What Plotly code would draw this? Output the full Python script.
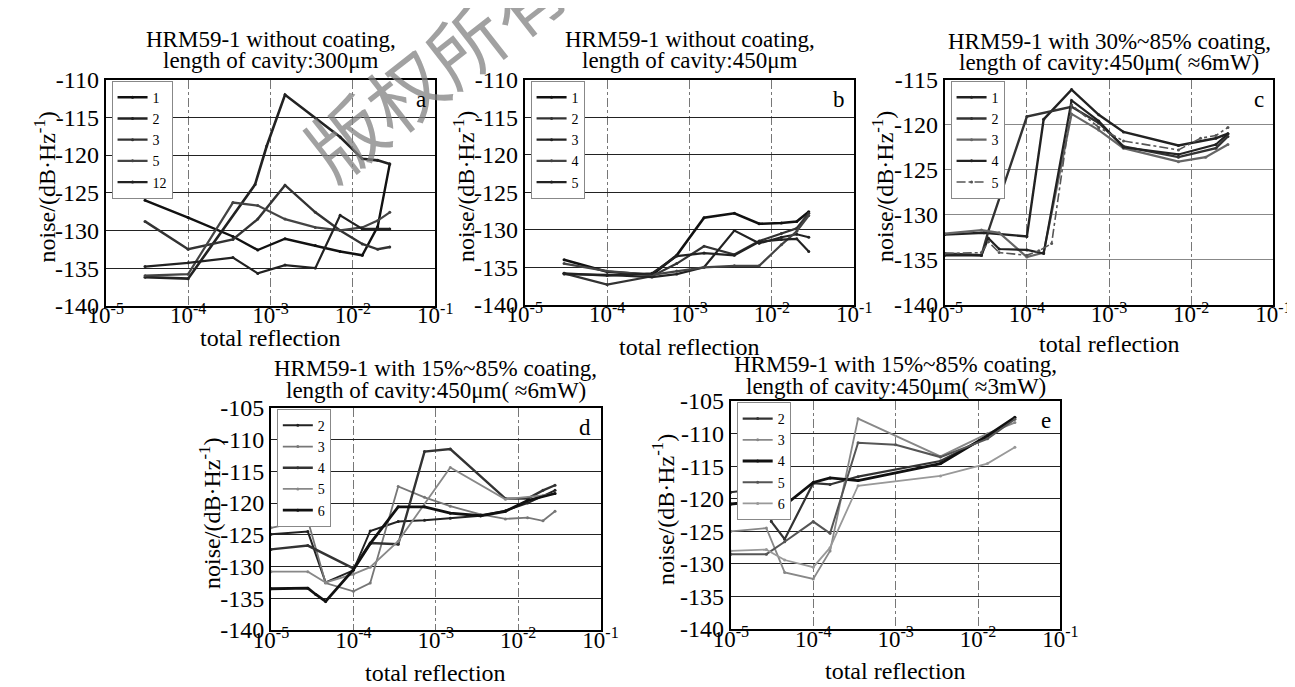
import plotly.graph_objects as go

W, H = 1295, 687
SERIF = "Liberation Serif, Times New Roman, serif"

# ---------------- data ----------------
# panel a : HRM59-1 without coating, 300um
a_names = ["1", "2", "3", "5", "12"]
a1_x = [3e-5, 1e-4, 3.5e-4, 7e-4, 1.5e-3, 3.5e-3, 7e-3, 1.3e-2, 2e-2, 2.8e-2]
a1_y = [-126.0, -128.3, -130.8, -132.6, -131.1, -132.0, -132.8, -133.3, -129.5, -121.2]
a2_x = [3e-5, 1e-4, 6.5e-4, 9e-4, 1.5e-3, 7e-3, 1.3e-2, 2e-2, 2.8e-2]
a2_y = [-136.2, -136.4, -123.9, -118.8, -112.0, -117.6, -120.5, -120.7, -121.2]
a3_x = [3e-5, 1e-4, 3.5e-4, 7e-4, 1.5e-3, 3.5e-3, 7e-3, 1.3e-2, 2e-2, 2.8e-2]
a3_y = [-128.8, -132.5, -131.2, -128.5, -124.0, -127.6, -130.0, -131.8, -132.5, -132.2]
a5_x = [3e-5, 1e-4, 3.5e-4, 7e-4, 1.5e-3, 3.5e-3, 7e-3, 1.3e-2, 2e-2, 2.8e-2]
a5_y = [-136.0, -135.8, -126.3, -126.7, -128.5, -129.6, -130.0, -129.6, -128.7, -127.6]
a12_x = [3e-5, 1e-4, 3.5e-4, 7e-4, 1.5e-3, 3.5e-3, 7e-3, 1.3e-2, 2e-2, 2.8e-2]
a12_y = [-134.8, -134.3, -133.6, -135.7, -134.6, -135.0, -128.0, -129.8, -129.8, -129.8]

# panel b : HRM59-1 without coating, 450um
b_names = ["1", "2", "3", "4", "5"]
b_x = [3e-5, 1e-4, 3.5e-4, 7e-4, 1.5e-3, 3.5e-3, 7e-3, 1.3e-2, 2e-2, 2.8e-2]
b1_y = [-134.0, -135.6, -136.0, -133.4, -128.4, -127.8, -129.2, -129.1, -128.9, -127.6]
b2_y = [-135.8, -137.3, -136.2, -134.5, -132.2, -133.3, -131.5, -130.5, -129.8, -127.8]
b3_y = [-135.9, -136.0, -136.3, -135.9, -135.0, -130.1, -131.8, -131.0, -130.6, -131.0]
b4_y = [-134.5, -135.5, -136.0, -135.5, -135.0, -134.8, -134.8, -132.0, -130.2, -128.1]
b5_y = [-135.8, -136.1, -135.8, -133.5, -133.1, -133.4, -131.6, -131.3, -131.2, -132.9]

# panel c : 30%~85% coating, 450um (~6mW)
c_names = ["1", "2", "3", "4", "5"]
c1_x = [1e-5, 3e-5, 1e-4, 1.6e-4, 3.5e-4, 7.5e-4, 1.5e-3, 7e-3, 2e-2, 2.8e-2]
c1_y = [-132.2, -132.0, -132.4, -119.4, -116.1, -118.9, -120.8, -122.3, -121.5, -121.0]
c2_x = [1e-5, 2.8e-5, 3.4e-5, 1e-4, 3.5e-4, 7.5e-4, 1.5e-3, 7e-3, 2e-2, 2.8e-2]
c2_y = [-134.3, -134.5, -131.8, -119.1, -118.0, -119.8, -122.4, -123.6, -122.6, -121.3]
c3_x = [1e-5, 2.8e-5, 4.6e-5, 1e-4, 1.6e-4, 3.5e-4, 7.5e-4, 1.5e-3, 7e-3, 1.5e-2, 2.8e-2]
c3_y = [-132.1, -131.7, -132.0, -134.7, -134.2, -118.8, -120.6, -122.6, -124.1, -123.6, -122.2]
c4_x = [1e-5, 2.8e-5, 3.4e-5, 4.6e-5, 1e-4, 1.6e-4, 3.5e-4, 7.5e-4, 1.5e-3, 7e-3, 2e-2, 2.8e-2]
c4_y = [-134.5, -134.5, -132.6, -133.8, -133.9, -134.3, -117.3, -119.6, -122.5, -123.3, -122.2, -121.0]
c5_x = [1e-5, 2.8e-5, 3.4e-5, 4.6e-5, 1e-4, 1.4e-4, 2e-4, 3.5e-4, 7.5e-4, 1.5e-3, 7e-3, 1.3e-2, 2e-2, 2.8e-2]
c5_y = [-134.3, -134.2, -133.0, -134.2, -134.5, -134.0, -133.2, -117.8, -120.3, -121.8, -122.8, -121.5, -121.2, -120.3]

# panel d : 15%~85% coating, 450um (~6mW)
d_names = ["2", "3", "4", "5", "6"]
d2_x = [1e-5, 2.8e-5, 4.6e-5, 1e-4, 1.6e-4, 3.5e-4, 7.3e-4, 1.5e-3, 3.5e-3, 7e-3, 1.3e-2, 2.8e-2]
d2_y = [-124.9, -124.5, -132.5, -130.6, -124.4, -122.9, -122.7, -122.4, -122.0, -121.2, -120.0, -118.0]
d3_x = [1e-5, 2.8e-5, 4.6e-5, 1e-4, 1.6e-4, 3.5e-4, 7.3e-4, 1.5e-3, 3.5e-3, 7e-3, 1.3e-2, 2e-2, 2.8e-2]
d3_y = [-123.9, -122.7, -132.6, -133.9, -132.6, -117.4, -119.1, -120.5, -121.8, -122.5, -122.3, -122.8, -121.3]
d4_x = [1e-5, 2.8e-5, 1e-4, 1.6e-4, 3.5e-4, 7.3e-4, 1.5e-3, 7e-3, 1.3e-2, 2e-2, 2.8e-2]
d4_y = [-127.3, -126.7, -130.3, -126.3, -126.5, -111.9, -111.5, -119.3, -119.3, -118.0, -117.2]
d5_x = [1e-5, 2.8e-5, 4.6e-5, 1e-4, 1.6e-4, 3.5e-4, 1.5e-3, 7e-3, 2e-2, 2.8e-2]
d5_y = [-130.8, -130.8, -132.5, -131.2, -130.1, -126.0, -114.4, -119.4, -118.8, -118.5]
d6_x = [1e-5, 2.8e-5, 3.5e-5, 4.6e-5, 1e-4, 1.6e-4, 3.5e-4, 7.3e-4, 1.5e-3, 3.5e-3, 7e-3, 1.3e-2, 2.8e-2]
d6_y = [-133.5, -133.4, -134.4, -135.5, -130.5, -126.4, -120.6, -120.6, -121.6, -122.0, -121.3, -119.6, -118.5]

# panel e : 15%~85% coating, 450um (~3mW)
e_names = ["2", "3", "4", "5", "6"]
e2_x = [1e-5, 2.7e-5, 3.1e-5, 4.5e-5, 1e-4, 1.6e-4, 3.5e-4, 3.5e-3, 1.3e-2, 2.8e-2]
e2_y = [-119.0, -118.3, -123.5, -126.2, -117.6, -117.8, -116.6, -114.2, -110.5, -107.6]
e3_x = [1e-5, 2.7e-5, 4.5e-5, 1e-4, 1.6e-4, 3.5e-4, 3.5e-3, 1.3e-2, 2.8e-2]
e3_y = [-125.0, -124.5, -131.3, -132.3, -128.0, -107.7, -113.5, -110.0, -108.3]
e4_x = [1e-5, 2.7e-5, 4.5e-5, 1e-4, 1.6e-4, 3.5e-4, 3.5e-3, 1.3e-2, 2.8e-2]
e4_y = [-120.8, -120.3, -121.0, -117.5, -116.8, -117.2, -114.6, -110.3, -107.5]
e5_x = [1e-5, 2.7e-5, 4.5e-5, 1e-4, 1.6e-4, 3.5e-4, 1e-3, 3.5e-3, 1.3e-2, 2.8e-2]
e5_y = [-128.5, -128.5, -126.6, -123.5, -125.3, -111.4, -111.7, -113.6, -110.8, -107.8]
e6_x = [1e-5, 2.7e-5, 4.5e-5, 1e-4, 1.6e-4, 3.5e-4, 3.5e-3, 1.3e-2, 2.8e-2]
e6_y = [-128.0, -127.8, -129.4, -130.5, -127.5, -118.0, -116.5, -114.6, -112.1]

title_line1 = [
    "HRM59-1 without coating,",
    "HRM59-1 without coating,",
    "HRM59-1 with 30%~85% coating,",
    "HRM59-1 with 15%~85% coating,",
    "HRM59-1 with 15%~85% coating,",
]
title_line2 = [
    "length of cavity:300μm",
    "length of cavity:450μm",
    "length of cavity:450μm( ≈6mW)",
    "length of cavity:450μm( ≈6mW)",
    "length of cavity:450μm( ≈3mW)",
]
letters = ["a", "b", "c", "d", "e"]
x_tickvals = [1e-5, 1e-4, 1e-3, 1e-2, 1e-1]
x_ticktext = ["10<sup>-5</sup>", "10<sup>-4</sup>", "10<sup>-3</sup>", "10<sup>-2</sup>", "10<sup>-1</sup>"]
y_tickvals = [-140, -135, -130, -125, -120, -115, -110, -105]
y_ticktext = ["-140", "-135", "-130", "-125", "-120", "-115", "-110", "-105"]
y_ranges = [(-140, -110), (-140, -110), (-140, -115), (-140, -105), (-140, -105)]
x_title = "total reflection"
y_title = "noise/(dB·Hz<sup>-1</sup>)"
watermark = "版权所有"

panels = [
    (a_names, [(a1_x, a1_y), (a2_x, a2_y), (a3_x, a3_y), (a5_x, a5_y), (a12_x, a12_y)]),
    (b_names, [(b_x, b1_y), (b_x, b2_y), (b_x, b3_y), (b_x, b4_y), (b_x, b5_y)]),
    (c_names, [(c1_x, c1_y), (c2_x, c2_y), (c3_x, c3_y), (c4_x, c4_y), (c5_x, c5_y)]),
    (d_names, [(d2_x, d2_y), (d3_x, d3_y), (d4_x, d4_y), (d5_x, d5_y), (d6_x, d6_y)]),
    (e_names, [(e2_x, e2_y), (e3_x, e3_y), (e4_x, e4_y), (e5_x, e5_y), (e6_x, e6_y)]),
]

# ---------------- styles / layout geometry (pixels) ----------------
boxes = [(82, 421, 61, 296), (513, 852, 61, 295), (945, 1283, 61, 295),
         (252, 591, 402, 633), (725, 1064, 395, 632)]
ytitle_x = [19, 451, 882, 189, 656]
xtitle_y = [329, 339, 336, 678, 676]
title_y1 = [19, 19, 21, 361, 357]
title_y2 = [41, 41, 43, 384, 380]

styles = [
    [dict(color="#111", width=2.4), dict(color="#222", width=2.6), dict(color="#333", width=2.4),
     dict(color="#444", width=2.2), dict(color="#222", width=2.2)],
    [dict(color="#111", width=2.6), dict(color="#333", width=2.2), dict(color="#222", width=2.2),
     dict(color="#444", width=2.2), dict(color="#222", width=2.2)],
    [dict(color="#222", width=2.4), dict(color="#333", width=2.4), dict(color="#666", width=2.2),
     dict(color="#222", width=2.2), dict(color="#555", width=1.6, dash="dashdot")],
    [dict(color="#222", width=2.0), dict(color="#777", width=1.8), dict(color="#333", width=2.4),
     dict(color="#888", width=1.8), dict(color="#111", width=2.8)],
    [dict(color="#333", width=2.2), dict(color="#888", width=1.8), dict(color="#111", width=2.8),
     dict(color="#555", width=2.0), dict(color="#999", width=1.8)],
]
hgrid_color = ["#222", "#222", "#888", "#222", "#222"]


def px(x):
    return x / W


def py(y):
    return 1 - y / H


fig = go.Figure()
layout = dict(
    width=W, height=H, autosize=False,
    margin=dict(l=0, r=0, t=0, b=0),
    paper_bgcolor="white", plot_bgcolor="white",
    font=dict(family=SERIF, color="black", size=20),
    annotations=[],
)

# watermark (drawn first, behind the other annotations)
layout["annotations"].append(dict(
    text=watermark, x=px(420), y=py(46), xref="paper", yref="paper",
    xanchor="center", yanchor="middle", showarrow=False, textangle=-38,
    font=dict(size=76, family="Noto Sans CJK SC", color="rgba(130,130,130,0.75)"),
))

for i, (names, series) in enumerate(panels):
    k = "" if i == 0 else str(i + 1)
    leg = "legend" + k
    for j, (name, (xs, ys)) in enumerate(zip(names, series)):
        st = styles[i][j]
        fig.add_trace(go.Scatter(
            x=xs, y=ys, name=name, mode="lines+markers",
            line=dict(color=st["color"], width=st["width"], dash=st.get("dash", "solid")),
            marker=dict(size=3, color=st["color"]),
            xaxis="x" + k, yaxis="y" + k, legend=leg,
        ))
    l, r, t, b = boxes[i]
    layout["xaxis" + k] = dict(
        domain=[px(l), px(r)], anchor="y" + k, type="log", range=[-5, -1],
        tickvals=x_tickvals, ticktext=x_ticktext, tickfont=dict(size=23, family=SERIF),
        ticklabelstandoff=-12,
        showline=True, linecolor="black", linewidth=2, mirror=True, ticks="",
        showgrid=True, gridcolor="#777", griddash="dashdot", gridwidth=1,
        zeroline=False,
    )
    y0, y1 = y_ranges[i]
    layout["yaxis" + k] = dict(
        domain=[py(b), py(t)], anchor="x" + k, range=[y0, y1],
        tickvals=y_tickvals, ticktext=y_ticktext,
        tickfont=dict(size=24, family=SERIF),
        showline=True, linecolor="black", linewidth=2, mirror=True, ticks="",
        showgrid=True, gridcolor=hgrid_color[i], gridwidth=1,
        zeroline=False,
    )
    layout[leg] = dict(
        x=px(l + 6), y=py(t + 1), xanchor="left", yanchor="top",
        bgcolor="white", bordercolor="#888", borderwidth=1,
        font=dict(family=SERIF, size=14), tracegroupgap=0, itemwidth=30,
    )
    cx = (l + r) / 2
    layout["annotations"] += [
        dict(text=title_line1[i], x=px(cx), y=py(title_y1[i]), xref="paper", yref="paper",
             xanchor="center", yanchor="middle", showarrow=False,
             font=dict(size=23, family=SERIF)),
        dict(text=title_line2[i], x=px(cx), y=py(title_y2[i]), xref="paper", yref="paper",
             xanchor="center", yanchor="middle", showarrow=False,
             font=dict(size=23, family=SERIF)),
        dict(text=letters[i], x=px(r - 8), y=py(t + 5), xref="paper", yref="paper",
             xanchor="right", yanchor="top", showarrow=False,
             font=dict(size=23, family=SERIF)),
        dict(text=x_title, x=px(cx), y=py(xtitle_y[i]), xref="paper", yref="paper",
             xanchor="center", yanchor="middle", showarrow=False,
             font=dict(size=24, family=SERIF)),
        dict(text=y_title, x=px(ytitle_x[i]), y=py((t + b) / 2 - 6), xref="paper", yref="paper",
             xanchor="center", yanchor="middle", showarrow=False, textangle=-90,
             font=dict(size=24, family=SERIF)),
    ]

fig.update_layout(**layout)
fig.write_html("out.html")
